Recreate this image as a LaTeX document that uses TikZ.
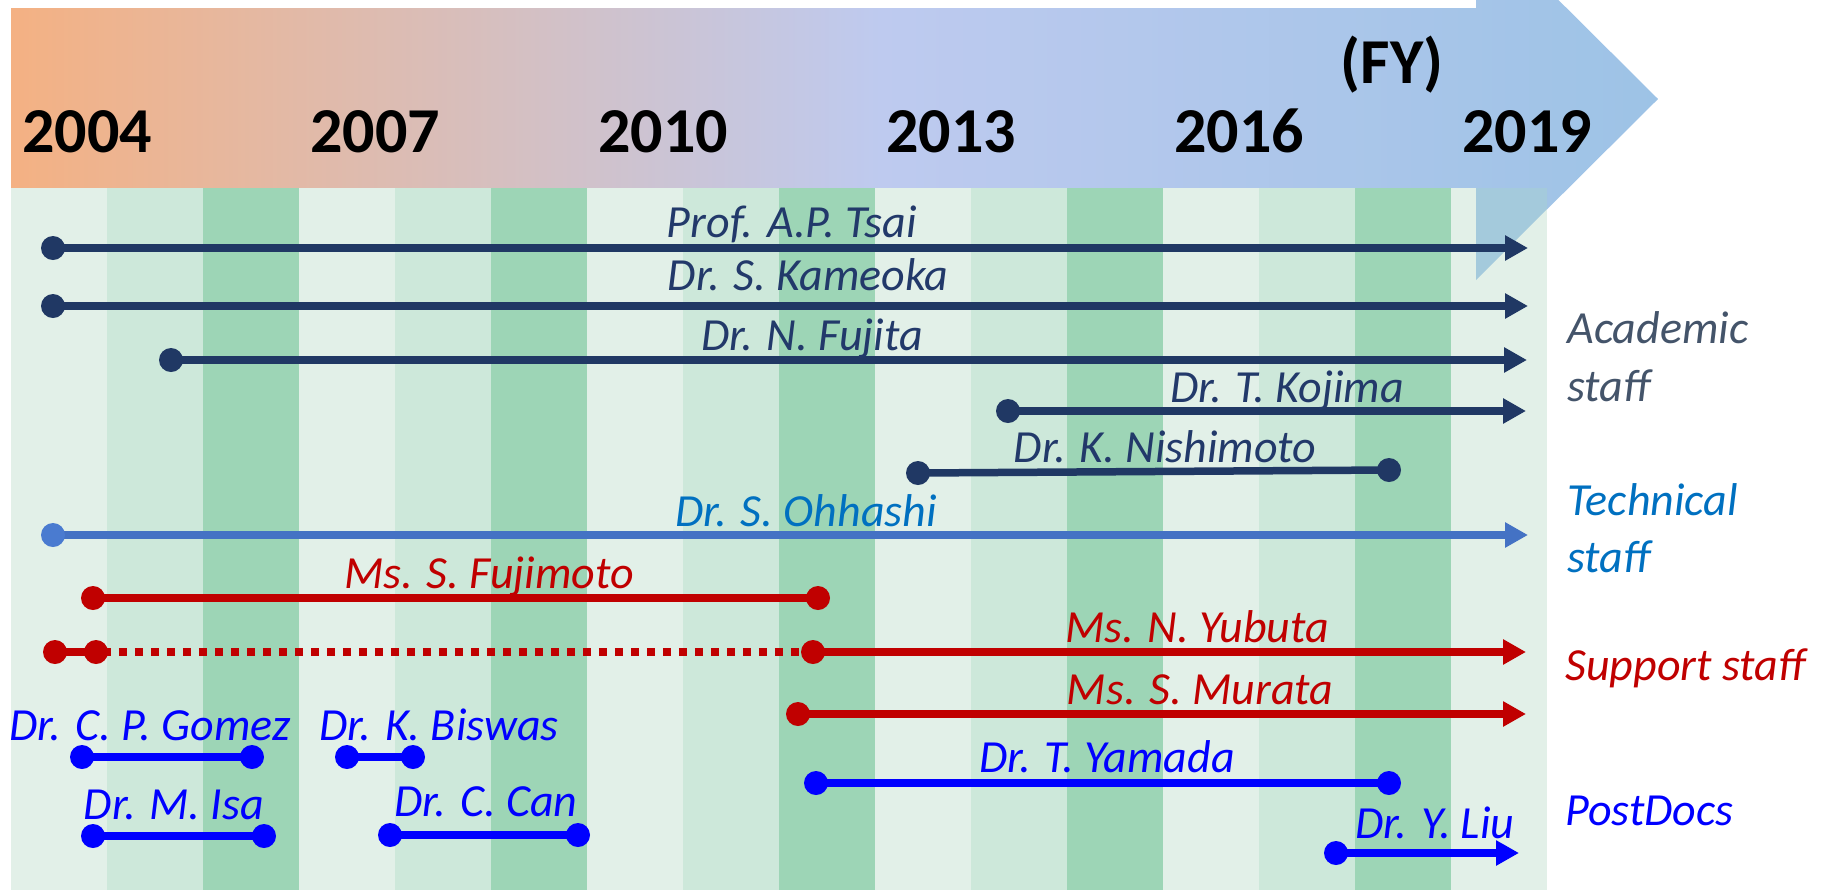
\documentclass[tikz,border=0pt]{standalone}
\usepackage{fontspec}
\setmainfont{Carlito}
\usetikzlibrary{arrows.meta}
\definecolor{navy}{HTML}{203864}
\definecolor{navytext}{HTML}{22396A}
\definecolor{acad}{HTML}{44546A}
\definecolor{techline}{HTML}{4472C4}
\definecolor{techdot}{HTML}{4A7BD0}
\definecolor{techtext}{HTML}{0070C0}
\definecolor{supred}{HTML}{C00000}
\definecolor{pdblue}{HTML}{0000FF}
\definecolor{gL}{HTML}{E2F0E8}
\definecolor{gM}{HTML}{CDE8DA}
\definecolor{gD}{HTML}{9DD5B6}
\definecolor{hdrA}{HTML}{F4B183}
\definecolor{hdrB}{HTML}{BECAEF}
\definecolor{hdrC}{HTML}{9DC3E6}
\definecolor{ovl}{HTML}{A4CADC}
\begin{document}
\begin{tikzpicture}[x=0.5pt,y=-0.5pt,
  tl/.style={line width=3.75pt},
  arr/.style={-{Triangle[length=11.5pt,width=12pt]}},
  tdot/.style={circle, fill=#1, inner sep=0pt, minimum size=12pt},
  nm/.style={font=\fontsize{23}{28}\selectfont\itshape, anchor=base, inner sep=0pt},
  cat/.style={font=\fontsize{23}{28}\selectfont\itshape, anchor=base west, inner sep=0pt},
  yr/.style={font=\fontsize{32}{38}\selectfont\bfseries, anchor=base, inner sep=0pt}]
\useasboundingbox (0,0) rectangle (1827,890);
\clip (0,0) rectangle (1827,890);
% header arrow
\begin{scope}
\clip (11,8) -- (1476,8) -- (1476,-82) -- (1658,99) -- (1476,280) -- (1476,189) -- (11,189) -- cycle;
\shade[left color=hdrA, right color=hdrB] (11,-90) rectangle (881,290);
\shade[left color=hdrB, right color=hdrC] (880,-90) rectangle (1658,290);
\end{scope}
% green stripes
\foreach \i/\c in {0/gL,1/gM,2/gD,3/gL,4/gM,5/gD,6/gL,7/gM,8/gD,9/gL,10/gM,11/gD,12/gL,13/gM,14/gD,15/gL}
  \fill[\c] ({11+96*\i},188) rectangle ({11+96*(\i+1)},890);
\fill[ovl] (1476,188) -- (1547,188) -- (1547,209) -- (1476,280) -- cycle;
% years
\node[yr] (y2004) at (87,152) {2004};
\node[yr] (y2007) at (375,152) {2007};
\node[yr] (y2010) at (663,152) {2010};
\node[yr] (y2013) at (951,152) {2013};
\node[yr] (y2016) at (1239,152) {2016};
\node[yr] (y2019) at (1527,152) {2019};
\node[yr] (fy) at (1392,83) {(FY)};
% academic staff
\node[tdot=navy] (tsaiA) at (53,248) {};
\coordinate (tsaiB) at (1528,248);
\draw[tl,arr,navy] (tsaiA.center) -- (tsaiB);
\node[nm,text=navytext] (tsaiT) at (792,237) {Prof. A.P. Tsai};
\node[tdot=navy] (kamA) at (53,306) {};
\coordinate (kamB) at (1528,306);
\draw[tl,arr,navy] (kamA.center) -- (kamB);
\node[nm,text=navytext] (kamT) at (808,290) {Dr. S. Kameoka};
\node[tdot=navy] (fujA) at (171,360) {};
\coordinate (fujB) at (1527,360);
\draw[tl,arr,navy] (fujA.center) -- (fujB);
\node[nm,text=navytext] (fujT) at (812,350) {Dr. N. Fujita};
\node[tdot=navy] (kojA) at (1008,411) {};
\coordinate (kojB) at (1526,411);
\draw[tl,arr,navy] (kojA.center) -- (kojB);
\node[nm,text=navytext] (kojT) at (1287,402) {Dr. T. Kojima};
\node[tdot=navy] (nisA) at (918,473) {};
\node[tdot=navy] (nisB) at (1389,470) {};
\draw[tl,navy] (nisA.center) -- (nisB.center);
\node[nm,text=navytext] (nisT) at (1165,462) {Dr. K. Nishimoto};
% technical staff
\coordinate (ohhB) at (1528,535);
\draw[tl,arr,techline] (53,535) coordinate (ohhL) -- (ohhB);
\node[tdot=techdot] (ohhA) at (ohhL) {};
\node[nm,text=techtext] (ohhT) at (806,526) {Dr. S. Ohhashi};
% support staff
\node[tdot=supred] (fjmA) at (93,598) {};
\node[tdot=supred] (fjmB) at (818,598) {};
\draw[tl,supred] (fjmA.center) -- (fjmB.center);
\node[nm,text=supred] (fjmT) at (489,588) {Ms. S. Fujimoto};
\node[tdot=supred] (yubA) at (55,652) {};
\node[tdot=supred] (yubB) at (96,652) {};
\node[tdot=supred] (yubC) at (813,652) {};
\coordinate (yubD) at (1526,652);
\draw[tl,supred] (yubA.center) -- (yubB.center);
\draw[tl,supred,dash pattern=on 4pt off 4pt,dash phase=4.6pt] (yubB.center) -- (yubC.center);
\draw[tl,arr,supred] (yubC.center) -- (yubD);
\node[nm,text=supred] (yubT) at (1197,642) {Ms. N. Yubuta};
\node[tdot=supred] (murA) at (798,714) {};
\coordinate (murB) at (1526,714);
\draw[tl,arr,supred] (murA.center) -- (murB);
\node[nm,text=supred] (murT) at (1200,704) {Ms. S. Murata};
% postdocs
\node[tdot=pdblue] (yamA) at (816,783) {};
\node[tdot=pdblue] (yamB) at (1389,783) {};
\draw[tl,pdblue] (yamA.center) -- (yamB.center);
\node[nm,text=pdblue] (yamT) at (1107,772) {Dr. T. Yamada};
\node[tdot=pdblue] (liuA) at (1336,853) {};
\coordinate (liuB) at (1519,853);
\draw[tl,arr,pdblue] (liuA.center) -- (liuB);
\node[nm,text=pdblue] (liuT) at (1435,838) {Dr. Y. Liu};
\node[tdot=pdblue] (gomA) at (82,757) {};
\node[tdot=pdblue] (gomB) at (252,757) {};
\draw[tl,pdblue] (gomA.center) -- (gomB.center);
\node[nm,text=pdblue] (gomT) at (150,740) {Dr. C. P. Gomez};
\node[tdot=pdblue] (bisA) at (347,757) {};
\node[tdot=pdblue] (bisB) at (413,757) {};
\draw[tl,pdblue] (bisA.center) -- (bisB.center);
\node[nm,text=pdblue] (bisT) at (439,740) {Dr. K. Biswas};
\node[tdot=pdblue] (isaA) at (93,836) {};
\node[tdot=pdblue] (isaB) at (264,836) {};
\draw[tl,pdblue] (isaA.center) -- (isaB.center);
\node[nm,text=pdblue] (isaT) at (174,819) {Dr. M. Isa};
\node[tdot=pdblue] (canA) at (390,835) {};
\node[tdot=pdblue] (canB) at (578,835) {};
\draw[tl,pdblue] (canA.center) -- (canB.center);
\node[nm,text=pdblue] (canT) at (486,816) {Dr. C. Can};
% category labels
\node[cat,text=acad] (acad1) at (1567,343) {Academic};
\node[cat,text=acad] (acad2) at (1567,401) {staff};
\node[cat,text=techtext] (tech1) at (1567,515) {Technical};
\node[cat,text=techtext] (tech2) at (1567,572) {staff};
\node[cat,text=supred] (supp) at (1565,680) {Support staff};
\node[cat,text=pdblue] (pdoc) at (1565,825) {PostDocs};
\end{tikzpicture}
\end{document}
